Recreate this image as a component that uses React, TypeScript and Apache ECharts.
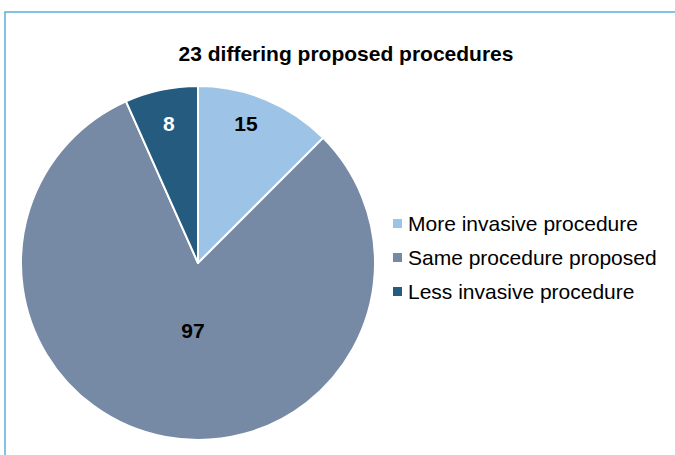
import React, { useEffect, useRef } from "react";
import * as echarts from "echarts";

const title = "23 differing proposed procedures";
const categories = ["More invasive procedure", "Same procedure proposed", "Less invasive procedure"];
const values = [15, 97, 8];
const colors = ["#9DC3E6", "#7689A5", "#245B7E"];
const labelColors = ["#000000", "#000000", "#FFFFFF"];
// label placement tweaks (style): radius fraction and angular shift (deg)
const labelRadiusFrac = [0.84, 0.385, 0.81];
const labelAngleShift = [-3.6, -6.3, 0.2];

const FONT = "Arial, 'Liberation Sans', sans-serif";
const CX = 198;
const CY = 263;
const R = 177;

export default function App() {
  const ref = useRef<HTMLDivElement>(null);
  useEffect(() => {
    if (!ref.current) return;
    const chart = echarts.init(ref.current, undefined, { renderer: "svg" });
    chart.setOption({
      animation: false,
      backgroundColor: "#ffffff",
      title: {
        text: title,
        left: 341,
        top: 38,
        textAlign: "center",
        textStyle: { fontFamily: FONT, fontWeight: "bold", fontSize: 21, color: "#000" },
      },
      graphic: [
        {
          type: "polyline",
          shape: { points: [[5, 460], [5, 12], [680, 12]] },
          style: { stroke: "#5AAEE0", lineWidth: 1.5, fill: "none" },
          silent: true,
        },
      ],
      legend: {
        orient: "vertical",
        left: 391,
        top: 213,
        padding: 0,
        itemWidth: 11,
        itemHeight: 11,
        itemGap: 13,
        icon: "rect",
        textStyle: { fontFamily: FONT, fontSize: 21, color: "#000", lineHeight: 21 },
        data: categories,
      },
      series: [
        {
          type: "pie",
          center: [CX, CY],
          radius: R,
          startAngle: 90,
          clockwise: true,
          itemStyle: { borderColor: "#ffffff", borderWidth: 2 },
          emphasis: { disabled: true },
          label: {
            show: true,
            position: "inside",
            formatter: "{c}",
            fontFamily: FONT,
            fontWeight: "bold",
            fontSize: 21,
          },
          labelLine: { show: false },
          labelLayout: (params: any) => {
            const i = params.dataIndex;
            const rect = params.labelRect;
            const lx = rect.x + rect.width / 2;
            const ly = rect.y + rect.height / 2;
            const a = Math.atan2(ly - CY, lx - CX) + (labelAngleShift[i] * Math.PI) / 180;
            const r = labelRadiusFrac[i] * 176;
            const nx = CX + r * Math.cos(a);
            const ny = CY + r * Math.sin(a);
            return { dx: nx - lx, dy: ny - ly };
          },
          data: categories.map((name, i) => ({
            name,
            value: values[i],
            itemStyle: { color: colors[i] },
            label: { color: labelColors[i] },
          })),
        },
      ],
    });
    return () => chart.dispose();
  }, []);
  return (
    <div
      ref={ref}
      style={{ position: "fixed", left: 0, top: 0, width: 675, height: 455 }}
    />
  );
}
